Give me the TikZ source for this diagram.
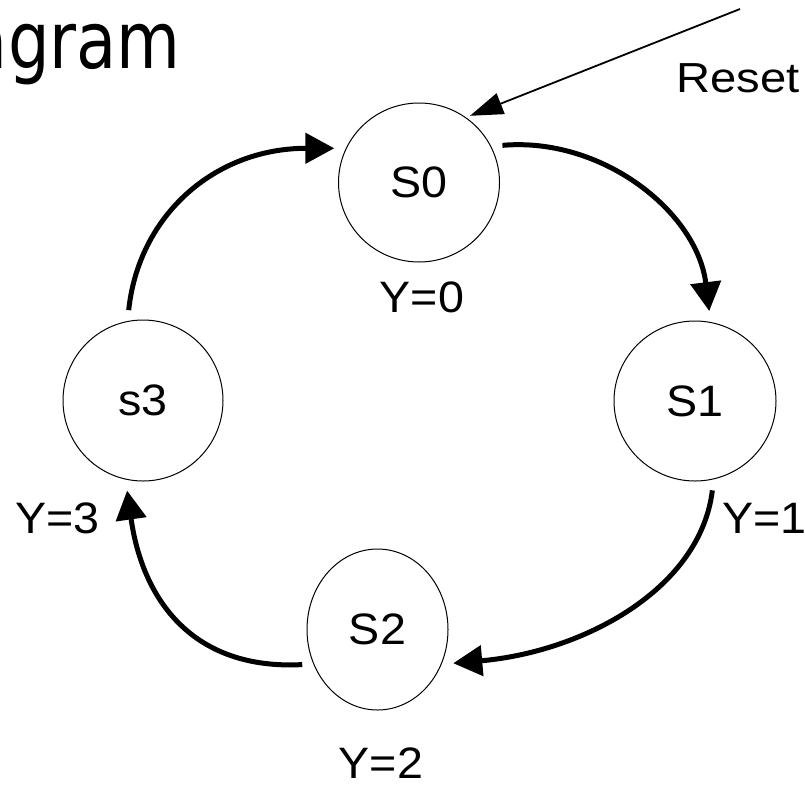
\documentclass[tikz,border=0pt]{standalone}
\usepackage{graphicx}
\usepackage{fontspec}
\setmainfont{Liberation Sans}
\newfontfamily\labelfont[FakeStretch=1.06]{Liberation Sans}
\newfontfamily\titlefont{DejaVu Sans}
\usetikzlibrary{arrows.meta,shapes.geometric}

\begin{document}
\begin{tikzpicture}[x=1pt,y=1pt,
  state/.style={draw, line width=1pt, ellipse, inner sep=0pt, outer sep=11pt,
    font=\labelfont\fontsize{44}{50}\selectfont},
  outlabel/.style={inner sep=0pt, font=\labelfont\fontsize{44}{50}\selectfont},
  transition/.style={line width=5pt, -{Triangle[length=29pt,width=30pt]}},
  resetarrow/.style={line width=1.8pt, -{Triangle[length=33pt,width=22pt]}}
]
\useasboundingbox (0,0) rectangle (805,-784);

% slide title, cut off at the left edge
\node[anchor=base east, inner sep=0pt, font=\titlefont\fontsize{79}{90}\selectfont]
  (title) at (181,-68) {\scalebox{0.83}[1]{agram}};

% states
\node[state, minimum width=161pt, minimum height=159pt] (S0) at (419,-182.5) {S0};
\node[state, minimum width=162pt, minimum height=160pt] (S1) at (695,-401) {S1};
\node[state, minimum width=141pt, minimum height=161pt] (S2) at (377.5,-629.5) {S2};
\node[state, minimum width=160pt, minimum height=161pt] (S3) at (143,-400.5) {s3};

% outputs
\node[outlabel, anchor=base] (Y0) at (422,-312) {Y=0};
\node[outlabel, anchor=base west] (Y1) at (722,-533) {Y=1};
\node[outlabel, anchor=base] (Y2) at (381,-778) {Y=2};
\node[outlabel, anchor=base west] (Y3) at (15,-533) {Y=3};

% reset input
\node[anchor=base east, inner sep=0pt, font=\labelfont\fontsize{42}{48}\selectfont]
  (reset) at (800,-92) {\scalebox{1.06}[1]{Reset}};
\coordinate (resetin) at (740,-9);
\draw[resetarrow, shorten >=-8pt] (resetin) -- (S0.50);

% transitions
\draw[transition] (S3.99) .. controls +(84:95) and +(180:120) .. (S0.158);
\draw[transition] (S0.24) .. controls +(5:100) and +(97:100) .. (S1.81);
\draw[transition] (S1.-79) .. controls +(-97:100) and +(5:130) .. (S2.-24);
\draw[transition] (S2.205) .. controls +(183:110) and +(-82:110) .. (S3.260);
\end{tikzpicture}
\end{document}
